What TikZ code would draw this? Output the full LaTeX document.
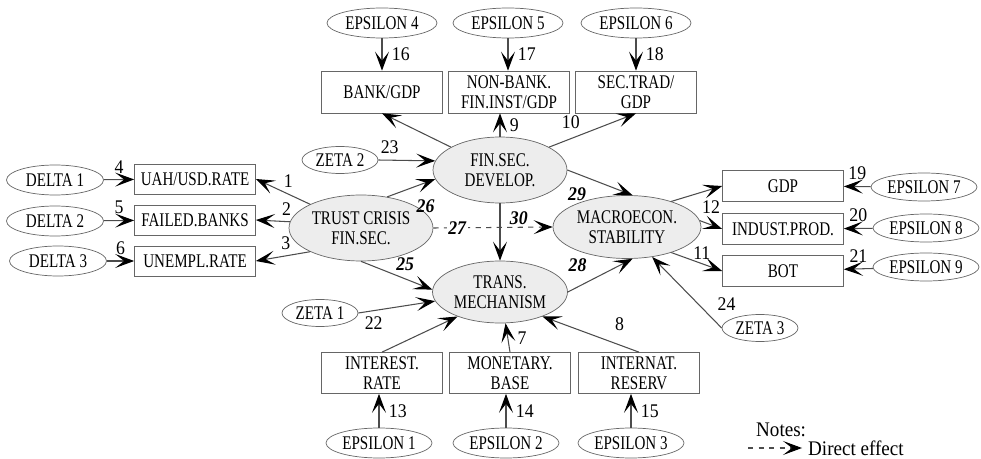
\documentclass[tikz,border=0pt]{standalone}
\usepackage{fontspec}
\setmainfont{Liberation Serif}[FakeStretch=0.78]
\newfontfamily\numfont{Liberation Serif}[FakeStretch=0.92]
\usetikzlibrary{shapes.geometric,arrows.meta}
\tikzset{
  >={Stealth[length=0.38cm,width=0.28cm,inset=0.18cm,black]},
}
\tikzstyle{every node}=[font=\fontsize{11}{11.5}\selectfont]
\tikzstyle{latent}=[ellipse,draw=black!60,fill=black!7,inner sep=0pt,align=center]
\tikzstyle{error}=[ellipse,draw=black!60,inner sep=0pt,minimum width=2.12cm,minimum height=0.6cm]
\tikzstyle{zeta}=[ellipse,draw=black!60,inner sep=0pt,minimum width=1.52cm,minimum height=0.54cm]
\tikzstyle{indicator}=[rectangle,draw=black!60,inner sep=0pt,align=center,minimum width=2.42cm,minimum height=0.6cm]
\tikzstyle{effect}=[->,draw=black!70,line width=0.6pt]
\tikzstyle{coef}=[font=\fontsize{11}{11.5}\numfont]
\tikzstyle{struct}=[font=\fontsize{11}{11.5}\numfont\bfseries\itshape]
\tikzstyle{note}=[anchor=west,font=\fontsize{11.8}{12}\numfont]

\begin{document}
\begin{tikzpicture}[x=0.02cm,y=-0.02cm]
    \useasboundingbox (0,0) rectangle (981,459);
    % latent variables
    \node[latent,minimum width=2.88cm,minimum height=1.32cm] (trust) at (361,228) {TRUST CRISIS\\FIN.SEC.};
    \node[latent,minimum width=2.68cm,minimum height=1.32cm] (fin) at (500,170) {FIN.SEC.\\DEVELOP.};
    \node[latent,minimum width=2.96cm,minimum height=1.26cm] (macro) at (627,227) {MACROECON.\\STABILITY};
    \node[latent,minimum width=2.7cm,minimum height=1.24cm] (trans) at (500,292) {TRANS.\\MECHANISM};
    % indicators
    \node[indicator] (uah) at (195,179) {UAH/USD.RATE};
    \node[indicator] (failed) at (195,220) {FAILED.BANKS};
    \node[indicator] (unempl) at (195,261) {UNEMPL.RATE};
    \node[indicator,minimum height=0.84cm] (bank) at (382,92) {BANK/GDP};
    \node[indicator,minimum height=0.84cm] (nonbank) at (509,92) {NON-BANK.\\FIN.INST/GDP};
    \node[indicator,minimum height=0.84cm] (sectrad) at (636,92) {SEC.TRAD/\\GDP};
    \node[indicator,minimum height=0.82cm] (interest) at (382,373) {INTEREST.\\RATE};
    \node[indicator,minimum height=0.82cm] (monetary) at (510,373) {MONETARY.\\BASE};
    \node[indicator,minimum height=0.82cm] (internat) at (639,373) {INTERNAT.\\RESERV};
    \node[indicator,minimum height=0.62cm] (gdp) at (783,186) {GDP};
    \node[indicator,minimum height=0.62cm] (indust) at (783,229) {INDUST.PROD.};
    \node[indicator,minimum height=0.62cm] (bot) at (783,271) {BOT};
    % errors
    \node[error,minimum width=1.94cm] (delta1) at (55,180) {DELTA 1};
    \node[error,minimum width=1.94cm] (delta2) at (55,221) {DELTA 2};
    \node[error,minimum width=1.94cm] (delta3) at (58,261) {DELTA 3};
    \node[error,minimum width=2.2cm] (eps4) at (382,23) {EPSILON 4};
    \node[error,minimum width=2.2cm] (eps5) at (508,23) {EPSILON 5};
    \node[error,minimum width=2.2cm] (eps6) at (636,23) {EPSILON 6};
    \node[error] (eps1) at (379,443) {EPSILON 1};
    \node[error] (eps2) at (506,443) {EPSILON 2};
    \node[error] (eps3) at (631,443) {EPSILON 3};
    \node[error,minimum height=0.56cm] (eps7) at (924,187) {EPSILON 7};
    \node[error,minimum height=0.56cm] (eps8) at (926,228) {EPSILON 8};
    \node[error,minimum height=0.56cm] (eps9) at (926,267) {EPSILON 9};
    \node[zeta] (zeta1) at (320,313) {ZETA 1};
    \node[zeta] (zeta2) at (340,160) {ZETA 2};
    \node[zeta] (zeta3) at (760,328) {ZETA 3};
    % measurement part
    \draw[effect] (delta1) -- (uah) node[coef,midway,above]{4};
    \draw[effect] (delta2) -- (failed) node[coef,midway,above]{5};
    \draw[effect] (delta3) -- (unempl) node[coef,midway,above]{6};
    \draw[effect] (trust.155) -- (uah.east) node[coef,pos=0.4,above]{1};
    \draw[effect] (trust.175) -- (failed.east) node[coef,pos=0.1,above]{2};
    \draw[effect] (trust.205) -- (unempl.east) node[coef,pos=0.45,above]{3};
    \draw[effect] (eps4) -- (bank) node[coef,midway,right=2pt]{16};
    \draw[effect] (eps5) -- (eps5 |- nonbank.north) node[coef,midway,right=2pt]{17};
    \draw[effect] (eps6) -- (sectrad) node[coef,midway,right=2pt]{18};
    \draw[effect] (fin.155) -- (bank.south);
    \draw[effect] (fin.north) -- (fin.north |- nonbank.south) node[coef,midway,right=2pt]{9};
    \draw[effect] (fin.25) -- (sectrad.south) node[coef,pos=0.25,above=2pt]{10};
    \draw[effect] (eps1) -- (eps1 |- interest.south) node[coef,midway,right=2pt]{13};
    \draw[effect] (eps2) -- (eps2 |- monetary.south) node[coef,midway,right=2pt]{14};
    \draw[effect] (eps3) -- (eps3 |- internat.south) node[coef,midway,right=2pt]{15};
    \draw[effect] (interest.north) -- (trans.210);
    \draw[effect] (monetary.north) -- (trans.-80) node[coef,midway,right=2pt]{7};
    \draw[effect] (internat.north) -- (trans.-30) node[coef,pos=0.2,above=0.15cm]{8};
    \draw[effect] (macro.30) -- (gdp.west);
    \draw[effect] (macro.5) -- (indust.west) node[coef,midway,above=0.1cm]{12};
    \draw[effect] (macro.-30) -- (bot.west) node[coef,pos=0.6,above=-1pt]{11};
    \draw[effect] (eps7) -- (gdp) node[coef,midway,above]{19};
    \draw[effect] (eps8) -- (indust) node[coef,midway,above]{20};
    \draw[effect] (eps9) -- (bot) node[coef,midway,above]{21};
    % disturbances
    \draw[effect] (zeta2.east) -- (fin.172) node[coef,pos=0.2,above]{23};
    \draw[effect] (zeta1.east) -- (trans.188) node[coef,pos=0.2,below]{22};
    \draw[effect] (zeta3.west) -- (macro.-50) node[coef,pos=0.15,above right]{24};
    % structural part
    \draw[effect] (trust.50) -- (fin.188) node[struct,pos=0.8,below=0.22cm]{26};
    \draw[effect] (trust.south) -- (trans.178) node[struct,pos=0.62,above=1pt]{25};
    \draw[effect] (fin.east) -- (macro.80) node[struct,pos=0.15,below=0.16cm]{29};
    \draw[effect] (fin.south) -- (trans.north) node[struct,pos=0.25,right=2pt]{30};
    \draw[effect] (trans.east) -- (macro.-80) node[struct,pos=0.15,above=0.18cm]{28};
    \draw[effect,dashed] (trust.east) -- (macro.west) node[struct,pos=0.2,fill=white,inner sep=1pt]{27};
    % notes
    \node[note] (notes) at (750,430) {Notes:};
    \node[note] (direct) at (802,448) {Direct effect};
    \coordinate (legend) at (748,448);
    \draw[effect,dashed] (legend) -- (direct.west);
\end{tikzpicture}
\end{document}
